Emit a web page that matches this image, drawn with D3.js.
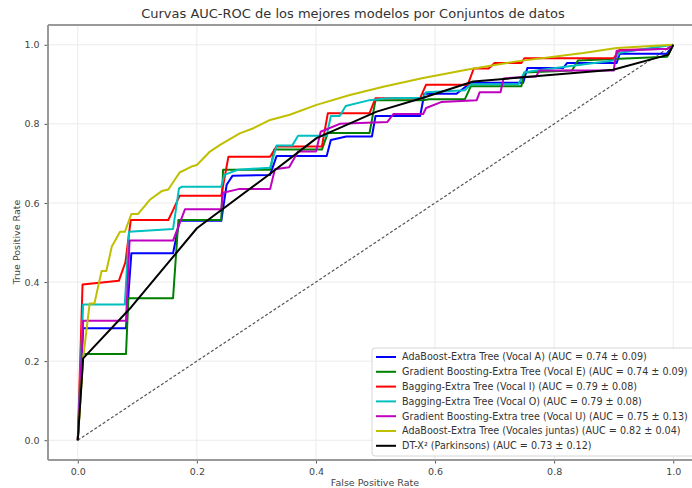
<!DOCTYPE html>
<html>
<head>
<meta charset="utf-8">
<style>
  body { margin: 0; background: #fff; }
  text { font-family: "DejaVu Sans", sans-serif; }
</style>
</head>
<body>
<svg width="692" height="488"></svg>
<script src="https://d3js.org/d3.v7.min.js"></script>
<script>
// ROC curves, as [fpr, tpr] pairs
var rocVocalA = [[0,0],[0.009,0.283],[0.081,0.283],[0.09,0.473],[0.16,0.473],[0.171,0.555],[0.241,0.555],[0.25,0.646],[0.26,0.669],[0.323,0.671],[0.334,0.719],[0.418,0.719],[0.425,0.759],[0.451,0.768],[0.494,0.768],[0.5,0.82],[0.575,0.82],[0.582,0.876],[0.636,0.876],[0.66,0.904],[0.748,0.904],[0.755,0.941],[0.815,0.941],[0.822,0.954],[0.905,0.954],[0.91,0.977],[0.989,0.977],[1,1]];
var rocVocalE = [[0,0],[0.009,0.218],[0.081,0.218],[0.085,0.359],[0.16,0.359],[0.169,0.557],[0.241,0.557],[0.244,0.684],[0.323,0.684],[0.33,0.735],[0.41,0.735],[0.42,0.777],[0.49,0.777],[0.5,0.86],[0.58,0.86],[0.59,0.862],[0.65,0.862],[0.66,0.895],[0.745,0.895],[0.75,0.93],[0.83,0.935],[0.84,0.96],[0.99,0.97],[1,1]];
var rocVocalI = [[0,0],[0.008,0.394],[0.069,0.403],[0.08,0.45],[0.089,0.557],[0.152,0.557],[0.16,0.582],[0.171,0.618],[0.241,0.618],[0.253,0.717],[0.323,0.717],[0.334,0.743],[0.41,0.743],[0.42,0.827],[0.49,0.827],[0.5,0.865],[0.575,0.865],[0.585,0.899],[0.655,0.899],[0.665,0.94],[0.69,0.94],[0.7,0.954],[0.745,0.954],[0.75,0.966],[0.9,0.966],[0.91,0.987],[0.99,0.99],[1,1]];
var rocVocalO = [[0,0],[0.009,0.343],[0.079,0.343],[0.086,0.527],[0.16,0.534],[0.17,0.637],[0.175,0.641],[0.241,0.641],[0.246,0.671],[0.269,0.684],[0.323,0.689],[0.334,0.745],[0.36,0.745],[0.37,0.77],[0.418,0.77],[0.425,0.82],[0.44,0.82],[0.45,0.845],[0.49,0.86],[0.52,0.865],[0.58,0.866],[0.585,0.88],[0.65,0.885],[0.66,0.9],[0.74,0.9],[0.75,0.93],[0.77,0.935],[0.9,0.96],[0.91,0.98],[1,1]];
var rocVocalU = [[0,0],[0.009,0.302],[0.081,0.302],[0.087,0.505],[0.16,0.505],[0.18,0.584],[0.241,0.584],[0.244,0.626],[0.27,0.635],[0.323,0.635],[0.331,0.685],[0.355,0.69],[0.37,0.73],[0.4,0.73],[0.408,0.78],[0.44,0.8],[0.52,0.805],[0.53,0.825],[0.58,0.825],[0.585,0.84],[0.61,0.855],[0.67,0.86],[0.675,0.88],[0.71,0.88],[0.715,0.915],[0.77,0.92],[0.775,0.935],[0.9,0.935],[0.905,0.985],[0.99,0.99],[1,1]];
var rocJuntas = [[0,0],[0.009,0.207],[0.02,0.346],[0.028,0.346],[0.04,0.428],[0.048,0.428],[0.057,0.489],[0.071,0.527],[0.079,0.527],[0.09,0.572],[0.101,0.572],[0.121,0.608],[0.141,0.63],[0.152,0.634],[0.171,0.677],[0.191,0.692],[0.2,0.696],[0.222,0.73],[0.239,0.747],[0.272,0.776],[0.295,0.789],[0.323,0.81],[0.356,0.823],[0.401,0.848],[0.457,0.873],[0.513,0.894],[0.58,0.916],[0.653,0.937],[0.737,0.958],[0.849,0.979],[0.905,0.992],[1,1]];
var rocParkinsons = [[0,0],[0.009,0.207],[0.09,0.337],[0.2,0.536],[0.317,0.667],[0.401,0.764],[0.502,0.831],[0.58,0.866],[0.664,0.907],[0.899,0.937],[0.992,0.975],[1,1]];

var labels = [
  "AdaBoost-Extra Tree (Vocal A) (AUC = 0.74 \u00b1 0.09)",
  "Gradient Boosting-Extra Tree (Vocal E) (AUC = 0.74 \u00b1 0.09)",
  "Bagging-Extra Tree (Vocal I) (AUC = 0.79 \u00b1 0.08)",
  "Bagging-Extra Tree (Vocal O) (AUC = 0.79 \u00b1 0.08)",
  "Gradient Boosting-Extra tree (Vocal U) (AUC = 0.75 \u00b1 0.13)",
  "AdaBoost-Extra Tree (Vocales juntas) (AUC = 0.82 \u00b1 0.04)",
  "DT-X\u00b2 (Parkinsons) (AUC = 0.73 \u00b1 0.12)"
];
var colors = ["#0000ff", "#008000", "#ff0000", "#00bfbf", "#bf00bf", "#bfbf00", "#000000"];
var ticks = [0, 0.2, 0.4, 0.6, 0.8, 1.0];

var curves = [rocVocalA, rocVocalE, rocVocalI, rocVocalO, rocVocalU, rocJuntas, rocParkinsons];

var svg = d3.select("svg"),
    margin = { top: 25, left: 48 },
    width = 655,
    height = 435,
    g = svg.append("g").attr("transform", "translate(" + margin.left + "," + margin.top + ")");

var x = d3.scaleLinear().domain([-0.05, 1.05]).range([0, width]);
var y = d3.scaleLinear().domain([-0.05, 1.05]).range([height, 0]);

// grid
g.append("g").selectAll("line").data(ticks).enter().append("line")
    .attr("x1", function (d) { return x(d) }).attr("x2", function (d) { return x(d) })
    .attr("y1", 0).attr("y2", height)
    .attr("stroke", "#ebebeb").attr("stroke-width", 1);
g.append("g").selectAll("line").data(ticks).enter().append("line")
    .attr("y1", function (d) { return y(d) }).attr("y2", function (d) { return y(d) })
    .attr("x1", 0).attr("x2", width)
    .attr("stroke", "#ebebeb").attr("stroke-width", 1);

// axes
var xAxis = g.append("g")
    .attr("transform", "translate(0," + height + ")")
    .call(d3.axisBottom(x).tickValues(ticks).tickFormat(d3.format(".1f")).tickSize(3.5).tickPadding(5));
var yAxis = g.append("g")
    .call(d3.axisLeft(y).tickValues(ticks).tickFormat(d3.format(".1f")).tickSize(3.5).tickPadding(5));
[xAxis, yAxis].forEach(function (a) {
    a.select(".domain").remove();
    a.selectAll("text").attr("font-size", 9.5).attr("fill", "#444").attr("font-family", "DejaVu Sans");
    a.selectAll(".tick line").attr("stroke", "#555");
});

// spines
g.append("line").attr("x1", 0).attr("x2", width).attr("y1", 0).attr("y2", 0).attr("stroke", "#999").attr("stroke-width", 2);
g.append("line").attr("x1", 0).attr("x2", width).attr("y1", height).attr("y2", height).attr("stroke", "#999").attr("stroke-width", 2);
g.append("line").attr("x1", 0).attr("x2", 0).attr("y1", 0).attr("y2", height).attr("stroke", "#999").attr("stroke-width", 2);

// chance line
g.append("line")
    .attr("x1", x(0)).attr("y1", y(0)).attr("x2", x(1)).attr("y2", y(1))
    .attr("stroke", "#555").attr("stroke-width", 1.2).attr("stroke-dasharray", "3,2");

var line = d3.line()
    .x(function (d) { return x(d[0]); })
    .y(function (d) { return y(d[1]); });

g.append("g").selectAll("path")
    .data(curves)
    .enter().append("path")
    .attr("d", line)
    .attr("fill", "none")
    .attr("stroke", function (d, i) { return colors[i] })
    .attr("stroke-width", 2)
    .attr("stroke-linejoin", "round");

// titles
svg.append("text")
    .text("Curvas AUC-ROC de los mejores modelos por Conjuntos de datos")
    .attr("x", 353).attr("y", 18)
    .attr("text-anchor", "middle").attr("font-size", 13).attr("fill", "#333");
svg.append("text")
    .text("False Positive Rate")
    .attr("x", 375).attr("y", 486)
    .attr("text-anchor", "middle").attr("font-size", 9.5).attr("fill", "#444");
svg.append("text")
    .text("True Positive Rate")
    .attr("transform", "translate(20,242) rotate(-90)")
    .attr("text-anchor", "middle").attr("font-size", 9.5).attr("fill", "#444");

// legend
var legend = svg.append("g").attr("transform", "translate(372,348)");
legend.append("rect")
    .attr("width", 326).attr("height", 108).attr("rx", 3)
    .attr("fill", "#fff").attr("fill-opacity", 0.9)
    .attr("stroke", "#d6d6d6");
var items = legend.selectAll("g.item").data(labels).enter().append("g")
    .attr("class", "item")
    .attr("transform", function (d, i) { return "translate(0," + (9 + i * 14.8) + ")" });
items.append("line")
    .attr("x1", 4).attr("x2", 24)
    .attr("stroke", function (d, i) { return colors[i] })
    .attr("stroke-width", 2);
items.append("text")
    .text(function (d) { return d })
    .attr("x", 30).attr("dy", "0.35em")
    .attr("font-size", 9.6).attr("fill", "#333");
</script>
</body>
</html>
